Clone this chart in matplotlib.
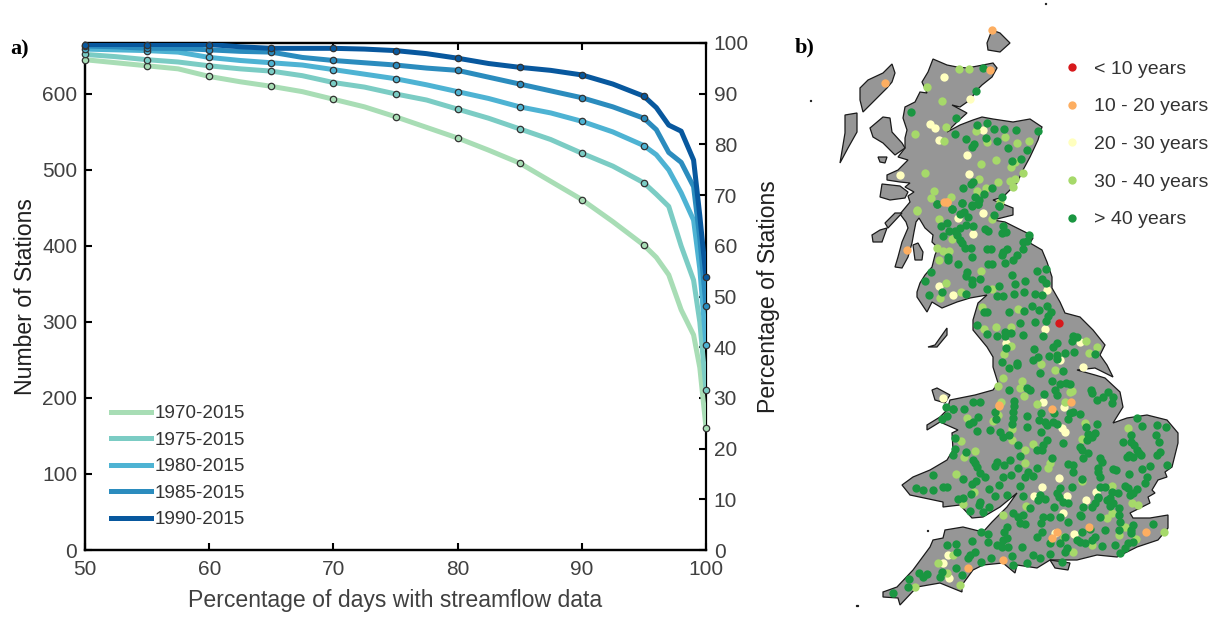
import numpy as np
import matplotlib
matplotlib.use("Agg")
import matplotlib.pyplot as plt
from matplotlib.patches import Polygon

plt.rcParams['font.family'] = ['Liberation Sans', 'DejaVu Sans']

# panel a
pct_days = [50, 52.5, 55, 57.5, 60, 62.5, 65, 67.5, 70, 72.5, 75, 77.5, 80, 82.5, 85, 87.5, 90, 92.5, 95, 96, 97, 98, 99, 99.5, 100]
marked_days = [50, 55, 60, 65, 70, 75, 80, 85, 90, 95, 100]
n_1970 = [645, 641, 637, 633, 623, 616, 610, 603, 593, 583, 570, 556, 542, 526, 509, 485, 461, 432, 401, 385, 362, 316, 283, 240, 161]
n_1975 = [652, 649, 645, 642, 637, 633, 630, 624, 615, 609, 600, 592, 580, 568, 554, 540, 522, 505, 483, 468, 452, 400, 355, 300, 211]
n_1980 = [659, 658, 657, 655, 648, 644, 641, 638, 632, 626, 620, 612, 603, 594, 583, 575, 564, 550, 532, 520, 500, 470, 434, 370, 270]
n_1985 = [663, 662, 660, 660, 658, 656, 655, 648, 644, 641, 638, 634, 631, 622, 613, 604, 595, 583, 568, 553, 523, 510, 478, 410, 321]
n_1990 = [665, 665, 665, 665, 665, 662, 660, 660, 660, 659, 657, 653, 647, 640, 635, 631, 625, 613, 597, 582, 559, 551, 513, 440, 359]
periods = ['1970-2015', '1975-2015', '1980-2015', '1985-2015', '1990-2015']
period_colors = ['#a8ddb5', '#7bccc4', '#4eb3d3', '#2b8cbe', '#08589e']

# panel b, gauge positions read in three 3x crops of the map, one set per crop
crop_origin = [(800, 0), (860, 200), (850, 400)]
dark_north = [(548,203),(527,273),(333,337),(468,355),(530,375),(560,368),(466,401),(582,387),(612,388),(648,390),(715,392),(497,417),(558,414),(592,424),(522,432),(516,442),(624,445),(680,450),(636,482),(663,477),(490,563),(518,545),(513,553),(576,565),(552,581),(525,590),(605,590),(410,612),(487,610),(538,600),(516,617),(535,612),(598,618),(456,627)]
light_north = [(478,208),(508,208),(381,261),(426,303),(438,381),(346,401),(528,392),(562,425),(616,410),(651,430),(688,422),(433,423),(376,518),(543,492),(588,481),(634,502),(645,485),(668,520),(537,537),(595,545),(630,543),(645,537),(640,560),(557,563),(530,572),(402,572),(392,595),(452,590),(350,630),(600,605)]
pale_north = [(433,231),(510,297),(391,372),(405,385),(416,419),(549,390),(501,466),(508,523),(300,525)]
orange_north = [(576,90),(571,210),(254,248),(442,606),(432,606)]
dark_mid = [(232,12),(277,28),(307,10),(335,15),(355,12),(403,45),(418,18),(300,42),(312,35),(325,50),(260,68),(243,78),(318,75),(340,78),(300,85),(285,92),(268,92),(248,108),(290,105),(300,120),(305,130),(315,143),(333,145),(380,148),(392,148),(375,88),(385,92),(430,78),(425,98),(437,95),(508,105),(500,122),(488,125),(490,148),(440,148),(430,155),(425,165),(470,165),(460,180),(436,188),(336,170),(263,170),(265,180),(293,193),(385,192),(397,192),(322,215),(213,216),(195,244),(318,228),(335,240),(335,252),(360,237),(457,225),(530,212),(558,207),(547,238),(557,250),(495,243),(465,253),(380,266),(417,257),(412,288),(430,287),(462,282),(493,275),(525,281),(547,286),(247,275),(207,284),(318,281),(515,318),(538,331),(562,318),(572,335),(565,347),(558,363),(448,337),(372,337),(380,335),(492,334),(480,369),(524,365),(350,375),(380,403),(410,408),(436,395),(435,408),(454,400),(489,405),(550,408),(638,408),(650,412),(636,422),(590,430),(578,442),(522,446),(437,445),(427,485),(470,488),(472,495),(447,505),(534,472),(520,480),(566,467),(590,465),(592,478),(615,460),(643,455),(705,463),(540,518),(608,513),(577,543),(600,553),(617,548),(630,553),(693,570),(695,580),(710,600),(730,592),(745,577),(760,592),(757,610),(552,581),(585,570),(590,585),(500,565),(510,570),(447,570),(462,603),(462,618),(340,605),(360,605),(258,622),(280,628)]
light_mid = [(170,32),(238,58),(277,118),(230,143),(250,152),(268,152),(238,180),(363,214),(258,250),(241,293),(302,277),(397,268),(365,320),(475,328),(372,388),(408,380),(452,380),(453,437),(432,462),(543,492),(448,505),(430,535),(413,558),(485,543),(480,565),(492,588),(585,510),(590,465),(630,575),(637,572),(678,422),(712,440),(688,458),(615,605),(530,612),(423,605),(395,58)]
pale_mid = [(370,38),(338,103),(238,258),(278,285),(562,270),(556,387),(660,425),(437,430),(600,480),(670,502),(250,595),(548,607),(613,620),(295,55)]
orange_mid = [(262,6),(141,151),(632,606),(417,617),(575,628)]
red_mid = [(596,369)]
dark_south = [(343,28),(310,28),(292,48),(275,58),(385,52),(368,65),(357,73),(435,35),(437,58),(490,35),(488,55),(485,72),(530,47),(572,40),(568,60),(530,82),(572,95),(612,38),(608,65),(622,72),(585,65),(590,75),(660,40),(668,35),(655,58),(690,43),(740,72),(707,82),(715,103),(735,100),(725,110),(712,120),(690,140),(640,130),(592,120),(580,135),(575,150),(560,150),(505,135),(450,95),(458,110),(478,105),(420,90),(380,93),(315,115),(315,148),(308,165),(348,155),(368,180),(375,188),(382,200),(440,185),(435,198),(462,195),(480,180),(503,203),(510,168),(390,220),(405,232),(378,243),(365,253),(338,238),(248,226),(460,230),(482,224),(448,255),(418,267),(362,283),(435,287),(470,285),(510,258),(525,230),(535,215),(550,228),(562,205),(605,175),(655,192),(670,195),(668,215),(700,175),(715,160),(750,175),(755,185),(745,205),(745,215),(750,230),(790,208),(798,210),(695,238),(838,165),(848,172),(830,170),(820,125),(843,125),(852,135),(842,105),(862,150),(868,158),(873,165),(875,77),(862,55),(922,75),(947,82),(918,105),(926,127),(930,157),(920,165),(952,195),(900,198),(876,207),(838,222),(890,232),(885,250),(860,268),(850,280),(840,285),(825,258),(835,265),(785,275),(765,262),(750,260),(772,300),(745,295),(735,310),(725,322),(700,320),(690,345),(655,310),(640,305),(628,290),(620,280),(630,265),(665,260),(612,322),(585,298),(570,285),(565,300),(520,288),(540,325),(490,340),(505,350),(520,345),(510,370),(525,372),(580,350),(600,350),(630,350),(655,365),(694,347),(750,350),(780,318),(808,325),(808,345),(810,365),(807,390),(765,390),(848,375),(842,390),(842,400),(850,425),(835,430),(825,445),(810,458),(795,435),(755,437),(735,410),(725,420),(705,428),(690,425),(680,420),(695,395),(720,388),(645,410),(600,430),(630,430),(650,445),(645,455),(600,463),(570,475),(550,465),(572,370),(575,395),(560,410),(470,380),(463,395),(470,415),(460,420),(440,435),(455,440),(475,440),(515,442),(413,403),(413,425),(392,395),(365,423),(318,432),(292,435),(320,457),(375,457),(360,465),(355,475),(422,475),(392,487),(485,467),(490,495),(530,490),(910,373),(635,487),(318,505),(335,525),(270,530),(275,515),(232,522),(208,520),(220,530),(177,536),(175,562),(130,580),(360,333),(390,305),(388,315),(418,322),(400,335),(290,260),(280,260),(248,270),(218,270),(198,265),(325,297),(340,295),(697,150),(745,290),(780,295),(790,310),(805,280)]
light_south = [(350,55),(430,62),(445,45),(485,88),(487,120),(550,133),(525,150),(333,123),(375,152),(342,170),(525,190),(600,188),(595,203),(318,222),(372,275),(340,313),(460,345),(528,318),(695,118),(705,70),(835,85),(785,257),(697,243),(770,355),(785,340),(847,308),(865,315),(825,382),(808,405),(857,417),(942,395),(725,435),(670,455),(642,410),(330,556),(195,560),(290,520),(265,490),(308,465)]
pale_south = [(575,262),(552,287),(627,234),(652,288),(708,300),(738,277),(640,340),(615,400),(672,402),(635,85),(645,97),(280,490),(296,535),(295,465)]
orange_south = [(888,396),(606,413),(620,395),(458,480),(353,505),(718,380),(447,15)]

gb_main = [(933,59),(947,65),(957,67),(967,68),(983,65),(993,63),(997,68),(992,77),(982,85),(977,90),(970,100),(960,107),(952,105),(967,113),(957,122),(947,132),(960,125),(973,120),(982,117),(993,119),(1013,122),(1030,119),(1042,127),(1038,140),(1030,157),(1023,170),(1017,183),(1003,197),(993,200),(1013,208),(1013,215),(993,220),(1005,222),(1027,233),(1033,238),(1030,243),(1042,250),(1047,262),(1052,277),(1052,288),(1060,302),(1065,313),(1080,317),(1093,330),(1105,345),(1100,355),(1107,365),(1113,377),(1095,368),(1077,370),(1095,375),(1105,378),(1120,392),(1123,407),(1113,423),(1127,418),(1147,415),(1167,420),(1178,433),(1178,443),(1172,467),(1165,472),(1167,477),(1158,480),(1152,490),(1155,493),(1148,497),(1150,503),(1142,507),(1130,513),(1133,518),(1150,518),(1168,515),(1168,528),(1158,540),(1137,547),(1117,557),(1097,555),(1077,560),(1050,560),(1037,568),(1017,565),(1015,573),(1003,563),(983,565),(973,570),(962,585),(962,592),(940,583),(917,587),(900,605),(898,598),(883,597),(883,592),(897,587),(913,570),(930,547),(933,540),(943,538),(945,530),(963,527),(983,532),(992,522),(1007,507),(1017,493),(1000,507),(983,517),(972,518),(960,505),(943,507),(943,502),(910,495),(902,485),(913,477),(930,470),(947,460),(953,450),(952,433),(958,430),(940,422),(927,430),(927,425),(940,417),(947,410),(950,400),(975,395),(993,390),(998,383),(993,367),(993,357),(987,347),(973,330),(973,320),(978,303),(987,295),(970,298),(957,302),(942,308),(932,302),(927,312),(917,297),(917,292),(920,283),(925,275),(932,267),(935,255),(938,248),(932,242),(933,235),(925,228),(919,218),(916,222),(914,232),(912,243),(908,257),(902,268),(895,267),(898,257),(902,242),(908,228),(906,222),(900,214),(905,208),(910,202),(908,196),(914,192),(905,187),(910,183),(900,182),(887,180),(887,175),(898,170),(908,160),(898,157),(905,148),(905,138),(907,130),(903,118),(905,107),(915,102),(920,92),(927,93),(922,82),(928,72)]
gb_islands = [
    [(860,88),(868,80),(883,73),(892,64),(895,73),(892,82),(887,88),(873,102),(863,112),(860,100)],
    [(845,115),(857,113),(857,132),(848,148),(840,163),(845,133)],
    [(870,128),(883,117),(890,118),(892,132),(902,143),(905,148),(895,155),(883,143),(873,137)],
    [(987,43),(992,30),(1000,33),(1010,43),(1000,52),(988,50)],
    [(878,157),(887,157),(885,163),(880,162)],
    [(882,184),(900,186),(908,192),(905,198),(890,200),(880,197)],
    [(872,235),(880,230),(887,228),(882,242),(873,242)],
    [(885,223),(895,213),(902,213),(888,228)],
    [(913,245),(918,243),(923,252),(922,260),(915,260)],
    [(928,347),(935,345),(947,328),(947,335),(937,347)],
    [(932,390),(937,388),(950,395),(945,403),(935,400)],
    [(1050,560),(1070,563),(1068,570),(1055,568)],
    [(1044.5,2.5),(1045.5,2.5),(1045.5,3.5),(1044.5,3.5)],
    [(810,100),(811,100),(811,101),(810,101)],
    [(856,605),(858,605),(858,606),(856,606)],
    [(926.5,530),(927.5,530),(927.5,531),(926.5,531)],
]
legend_labels = ['< 10 years', '10 - 20 years', '20 - 30 years', '30 - 40 years', '> 40 years']
legend_colors = ['#d7191c', '#fdae61', '#ffffbf', '#a6d96a', '#1a9641']

W, H = 1224, 619
fig = plt.figure(figsize=(W / 100, H / 100), dpi=100)

# line chart
ax = fig.add_axes([85 / W, (H - 550) / H, 621 / W, 507 / H])
keep = np.isin(pct_days, marked_days)
for label, vals, c in zip(periods, [n_1970, n_1975, n_1980, n_1985, n_1990], period_colors):
    ax.plot(pct_days, vals, color=c, lw=3.6, label=label, zorder=3)
    ax.plot(np.array(pct_days)[keep], np.array(vals)[keep], ls='none', marker='o', ms=4.6,
            mfc=c, mec='#333333', mew=0.9, zorder=4, clip_on=False)
ax.set_xlim(50, 100)
ax.set_ylim(0, 667)
ax.set_xticks(range(50, 101, 10))
ax.set_yticks(range(0, 700, 100))
ax.tick_params(axis='both', direction='in', length=5, width=1.5, labelsize=15,
               labelcolor='#404040', top=True, pad=5.5)
ax.tick_params(axis='x', pad=7)
for s in ax.spines.values():
    s.set_linewidth(1.6)
ax.spines['right'].set_visible(False)
ax.set_xlabel('Percentage of days with streamflow data', fontsize=16.6, color='#404040', va='center')
ax.xaxis.set_label_coords(0.5, -50 / 507)
ax.set_ylabel('Number of Stations', fontsize=16.6, color='#202020', va='center')
ax.yaxis.set_label_coords(-59 / 621, 0.5)
ax.legend(loc='lower left', bbox_to_anchor=(0.042, 0.043), frameon=False, fontsize=13.6,
          handlelength=2.1, handletextpad=0.2, labelspacing=0.49, labelcolor='#333333',
          borderpad=0, borderaxespad=0)

ax2 = ax.twinx()
ax2.set_ylim(0, 100)
ax2.set_yticks(range(0, 110, 10))
ax2.tick_params(axis='y', direction='in', length=5, width=1.5, labelsize=15,
                labelcolor='#404040', pad=5.5)
for s in ax2.spines.values():
    s.set_linewidth(1.6)
ax2.set_ylabel('Percentage of Stations', fontsize=16.6, color='#202020', va='center')
ax2.yaxis.set_label_coords(684 / 621, 0.5)
ax2.set_zorder(ax.get_zorder() - 1)
ax.patch.set_visible(False)

# map, axes in picture pixels
mp = fig.add_axes([0, 0, 1, 1])
mp.set_xlim(0, W)
mp.set_ylim(H, 0)
mp.axis('off')
for shape in [gb_main] + gb_islands:
    mp.add_patch(Polygon(shape, closed=True, fc='#969696', ec='#1a1a1a', lw=0.9))


def crop_xy(points, crop):
    ox, oy = crop_origin[crop]
    return [(ox + p[0] / 3, oy + p[1] / 3) for p in points]


groups = [
    ('#ffffbf', [(pale_north, 0), (pale_mid, 1), (pale_south, 2)]),
    ('#a6d96a', [(light_north, 0), (light_mid, 1), (light_south, 2)]),
    ('#1a9641', [(dark_north, 0), (dark_mid, 1), (dark_south, 2)]),
    ('#fdae61', [(orange_north, 0), (orange_mid, 1), (orange_south, 2)]),
    ('#d7191c', [(red_mid, 1)]),
]
for color, parts in groups:
    pts = np.array([q for pp, crop in parts for q in crop_xy(pp, crop)])
    mp.scatter(pts[:, 0], pts[:, 1], s=36, color=color, linewidths=0, zorder=3)

for i, (lab, c) in enumerate(zip(legend_labels, legend_colors)):
    y = 67 + i * 37.7
    mp.scatter([1072], [y], s=36, color=c, linewidths=0)
    mp.text(1094, y + 2, lab, fontsize=14, color='#333333', va='center')

fig.text(10 / W, 1 - 49 / H, 'a)', fontsize=16, fontweight='bold', family='Liberation Serif', va='center')
fig.text(795 / W, 1 - 47 / H, 'b)', fontsize=16, fontweight='bold', family='Liberation Serif', va='center')

fig.savefig('out.png', dpi=100)
